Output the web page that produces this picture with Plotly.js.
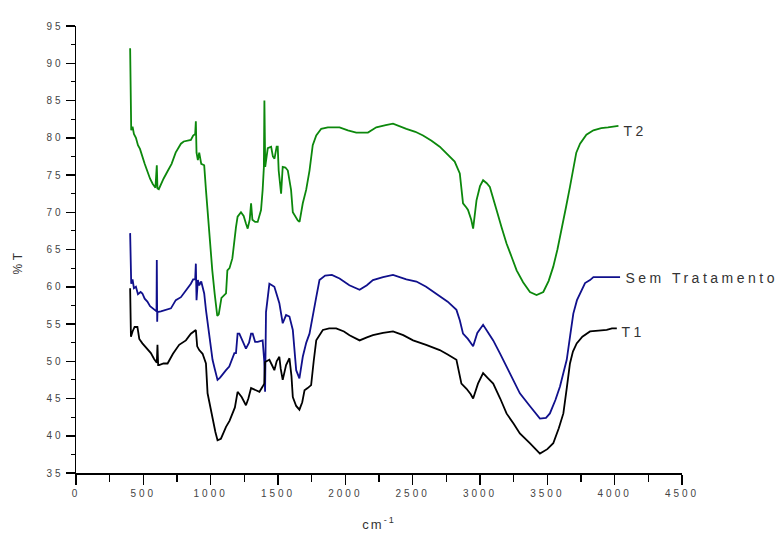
<!DOCTYPE html>
<html>
<head>
<meta charset="utf-8">
<script src="https://cdn.plot.ly/plotly-3.0.1.min.js"></script>
<style>
html,body{margin:0;padding:0;background:#fff;}
#chart{width:779px;height:537px;}
#chart .xtick text, #chart .ytick text{letter-spacing:3px;}
#chart .annotation-text{letter-spacing:3.5px;}
#chart .g-xtitle text{letter-spacing:2px;}
</style>
</head>
<body>
<div id="chart"></div>
<script>
// Series names
const seriesNames = ["T2", "Sem Tratamento", "T1"];

// T2 (green)
const t2X = [402,404,407,410,420,430,445,460,475,490,510,530,550,570,590,600,605,615,630,650,680,710,740,779,800,830,853,870,885,890,895,905,915,930,952,965,970,990,1012,1030,1049,1060,1080,1114,1124,1140,1161,1188,1200,1225,1245,1262,1275,1290,1300,1310,1330,1349,1374,1386,1395,1399,1405,1424,1449,1462,1474,1490,1498,1505,1523,1535,1555,1573,1597,1610,1630,1647,1660,1684,1709,1734,1758,1784,1821,1870,1908,1957,2019,2081,2168,2230,2300,2354,2453,2520,2577,2640,2701,2760,2812,2850,2874,2900,2911,2935,2949,2974,3000,3023,3050,3073,3100,3123,3160,3197,3235,3272,3320,3371,3420,3470,3510,3544,3575,3606,3640,3668,3693,3715,3743,3790,3842,3900,3950,4000,4028];
const t2Y = [92.0,84,83,81,81.5,80.5,80,79,78.5,77.5,76.5,75.5,74.5,73.8,73.3,76.3,73.2,73.1,73.8,74.5,75.5,76.5,78,79.2,79.5,79.6,79.7,80.3,80.5,82.2,78,77,78,76.5,76.3,73,71.8,66.7,62.2,59,56.1,56.3,58.5,59.1,62.2,62.5,63.8,68.0,69.4,70.0,69.5,68.5,67.8,69,71.2,69,68.7,68.7,70.3,73,76,85,76.1,78.6,78.8,77.5,77.2,78.8,78.8,75.6,72.5,76.1,76,75.6,73,70.0,69.3,68.9,68.7,71.2,73,75.6,79,80.3,81.2,81.4,81.4,81.4,81.0,80.7,80.7,81.4,81.7,81.9,81.2,80.8,80.3,79.6,78.8,77.8,76.8,75.2,71.2,70.6,70.3,69,67.8,71.6,73.5,74.3,73.9,73.4,71.6,70.3,68,65.8,64,62.2,60.6,59.3,58.9,59.3,60.8,62.7,65,67.6,70.8,73.4,76.1,78,79.2,80.4,81,81.3,81.4,81.5,81.6];

// Sem Tratamento (blue)
const semX = [402,404,406,410,420,430,445,460,480,493,510,530,550,568,590,598,600,603,605,630,660,705,741,779,816,853,870,885,890,895,905,915,930,952,965,990,1002,1014,1030,1051,1070,1090,1114,1138,1160,1176,1188,1200,1213,1240,1262,1285,1300,1312,1330,1349,1386,1398,1404,1411,1436,1455,1473,1490,1510,1535,1560,1585,1610,1635,1659,1684,1710,1734,1760,1784,1808,1850,1900,1957,2030,2106,2160,2205,2280,2354,2453,2528,2600,2701,2760,2825,2850,2874,2910,2949,2980,3023,3060,3098,3150,3197,3250,3296,3370,3445,3490,3519,3560,3594,3620,3644,3670,3693,3720,3743,3780,3817,3842,3950,4040];
const semY = [67.2,64,61,60.4,61,59.8,60,59,59.3,59.1,58.4,58,57.4,57.1,56.8,56.7,63.6,55.3,56.6,56.7,56.9,57.1,58.2,58.6,59.5,60.4,61,61,63.1,58.2,60.9,60.2,60.7,59.1,56.9,53.7,52,50.2,49,47.5,47.8,48.3,48.8,49.3,50.5,51.1,51.1,53.7,53.7,52.6,51.7,52.5,53.7,53.7,52.6,52.6,52.8,50,45.9,56.6,60.4,60.2,60,59,57.8,55.1,56.2,56,54.2,48.8,47.7,50.6,52.5,53.7,56.5,58.6,60.9,61.5,61.6,61.1,60.2,59.6,60.2,60.9,61.3,61.6,61,60.7,60,58.8,58,56.9,55.5,53.7,53,52.0,53.8,54.9,53.9,52.8,51,49.3,47.4,45.7,44,42.3,42.4,43.0,44.8,46.6,48.5,50.2,53.5,56.4,58.2,59.1,60.5,60.9,61.3,61.3,61.3];

// T1 (black)
const t1X = [402,404,408,420,435,456,470,493,520,556,580,600,605,610,617,650,680,720,766,816,853,875,890,900,915,940,965,977,1014,1035,1051,1076,1095,1114,1140,1163,1180,1200,1230,1262,1280,1300,1330,1362,1386,1398,1404,1420,1436,1455,1473,1490,1510,1520,1535,1560,1585,1600,1610,1635,1659,1680,1697,1720,1746,1765,1784,1833,1880,1932,1990,2031,2106,2160,2205,2280,2354,2430,2503,2600,2701,2760,2825,2862,2900,2930,2949,2985,3023,3060,3098,3150,3197,3250,3296,3370,3445,3500,3544,3585,3619,3645,3668,3690,3718,3760,3817,3880,3941,3980,4016];
const t1Y = [59.8,57.1,53.3,54,54.6,54.6,53,52.4,51.8,51.1,50.3,49.8,52.2,49.5,49.5,49.7,49.7,51,52.2,52.8,53.7,54,54.2,52,51.5,51,49.7,45.7,42.1,40.5,39.4,39.6,40.4,41.2,42,43,43.8,45.9,45.2,44.1,45,46.4,46.2,45.9,46.6,47,49.9,50,50.2,49.5,48.8,50,50.6,49,47.5,49.5,50.4,48,45.2,44,43.5,44.5,46.1,46.4,46.8,50,52.8,54.2,54.4,54.4,54,53.5,52.8,53.2,53.5,53.8,54,53.5,52.8,52.2,51.5,50.9,50.2,47.0,46.3,45.6,45.0,47,48.4,47.7,47,45,43,41.6,40.3,39,37.6,38.2,39,41,43,46.5,49.7,51.3,52.4,53.3,54,54.1,54.2,54.4,54.4];

// Axis ticks
const xTickVals = [0,500,1000,1500,2000,2500,3000,3500,4000,4500];
const xTickText = ["0","500","1000","1500","2000","2500","3000","3500","4000","4500"];
const yTickVals = [35,40,45,50,55,60,65,70,75,80,85,90,95];
const yTickText = ["35","40","45","50","55","60","65","70","75","80","85","90","95"];

const colors = ["#0c880c", "#10108c", "#000000"];
const xs = [t2X, semX, t1X];
const ys = [t2Y, semY, t1Y];
const fontFam = "Liberation Sans, Arial, sans-serif";
const labelSpacing = 3.5;
const labelYShift = [-5, -1, -4];

const traces = xs.map((x, i) => ({
  x: x, y: ys[i], type: "scatter", mode: "lines", name: seriesNames[i],
  line: {color: colors[i], width: 1.8, shape: "linear"}, showlegend: false
}));

const annotations = xs.map((x, i) => ({
  x: x[x.length - 1], y: ys[i][ys[i].length - 1], xref: "x", yref: "y",
  text: seriesNames[i], showarrow: false, xanchor: "left", yanchor: "middle",
  xshift: 3 + seriesNames[i].length * labelSpacing / 2, yshift: labelYShift[i],
  font: {family: fontFam, size: 14, color: "#333"}
}));

annotations.push({
  xref: "paper", yref: "paper", x: 0, y: 0.472, xshift: -58, xanchor: "center", yanchor: "middle",
  text: "%T", textangle: -90, showarrow: false,
  font: {family: fontFam, size: 12, color: "#333"}
});

const axisCommon = {
  showgrid: false, zeroline: false, showline: true, linecolor: "#000", linewidth: 1.5,
  ticks: "outside", tickwidth: 1.5, tickcolor: "#000",
  tickfont: {family: fontFam, size: 10, color: "#444"},
  tickmode: "array"
};

const layout = {
  width: 779, height: 537,
  margin: {l: 76, r: 97, t: 26, b: 64},
  paper_bgcolor: "#fff", plot_bgcolor: "#fff",
  xaxis: Object.assign({}, axisCommon, {
    range: [0, 4500], tickvals: xTickVals, ticktext: xTickText, ticklen: 10,
    minor: {tickmode: "linear", tick0: 250, dtick: 500, ticks: "outside", ticklen: 7, tickwidth: 1.2, tickcolor: "#000"},
    title: {text: "cm<sup>-1</sup>", font: {family: fontFam, size: 13, color: "#333"}, standoff: 22}
  }),
  yaxis: Object.assign({}, axisCommon, {
    range: [35, 95], tickvals: yTickVals, ticktext: yTickText, ticklen: 9,
    minor: {tickmode: "linear", tick0: 37.5, dtick: 5, ticks: "outside", ticklen: 4, tickwidth: 1.2, tickcolor: "#000"}
  }),
  annotations: annotations
};

Plotly.newPlot("chart", traces, layout, {displayModeBar: false, staticPlot: true});
</script>
</body>
</html>
